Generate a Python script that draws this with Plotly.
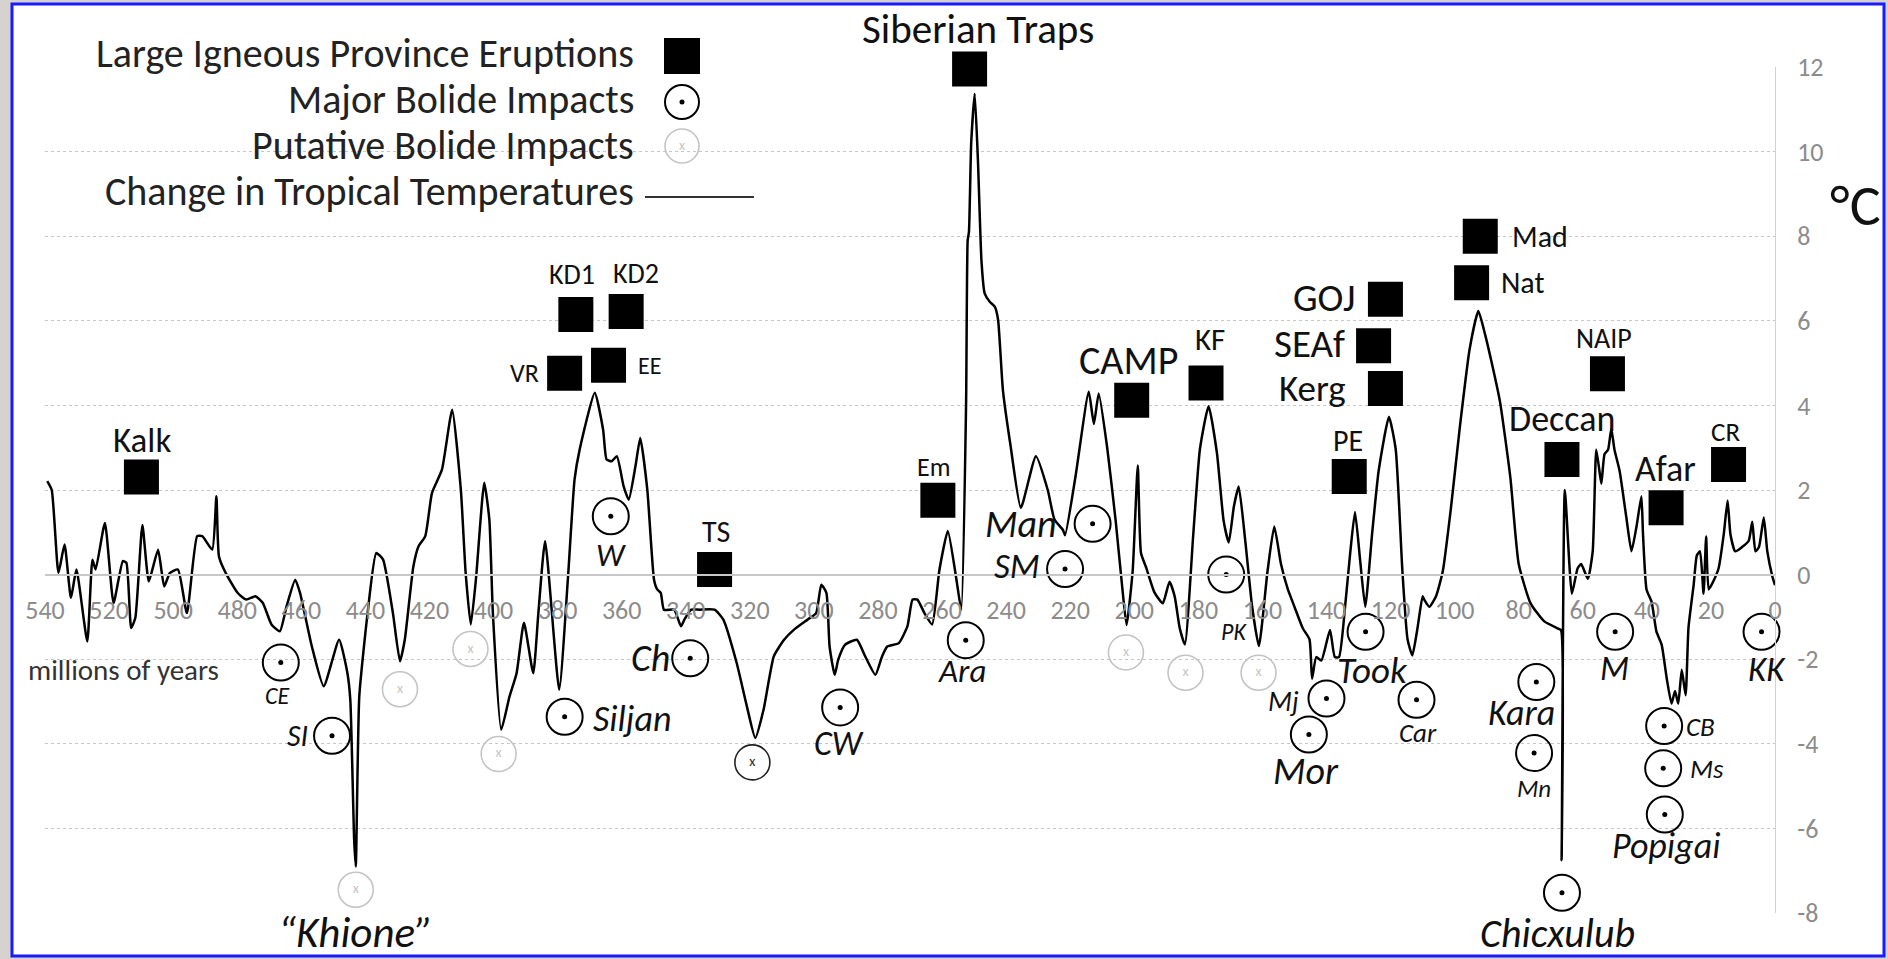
import plotly.graph_objects as go

# ---------------- data ----------------
AGE = [539.3, 537.9, 535.8, 533.9, 531.9, 530.2, 526.8, 525.2, 524.2, 521.3, 518.6, 515.7, 514.6,
       513.1, 511.8, 509.6, 507.6, 504.7, 502.8, 501.0, 498.5, 495.7, 492.5, 490.9, 487.8, 486.5,
       485.7, 483.6, 479.9, 477.2, 474.3, 472.0, 469.3, 466.7, 464.6, 461.9, 460.4, 456.7, 453.0,
       448.2, 445.6, 444.7, 443.5, 443.0, 441.9, 439.3, 436.6, 434.5, 431.4, 429.2, 427.7, 425.0,
       423.4, 421.3, 419.2, 416.1, 412.9, 410.2, 408.7, 407.1, 405.5, 402.9, 401.3, 400.2, 397.6,
       395.0, 392.8, 390.5, 387.6, 386.0, 383.9,
       379.5, 376.8, 374.7, 373.1, 368.4, 365.8, 364.7, 363.1, 361.5, 359.4, 357.8, 355.7, 354.2,
       352.0, 349.9, 348.9, 347.8, 346.8, 343.6, 341.5, 340.4, 338.3, 335.7, 331.0, 328.3, 324.1,
       320.9, 318.3, 315.7, 312.5, 309.3, 306.2, 301.9, 299.3, 297.7, 296.1, 295.1, 293.5, 292.4,
       290.3, 286.6, 284.0, 280.8, 278.7, 277.1, 273.5, 270.8, 269.2, 267.7, 265.5, 263.1, 260.8,
       258.2, 255.5, 254.0,
       252.5, 252.0, 251.6, 250.9, 249.8, 248.8, 247.7, 246.7, 245.1, 243.5, 242.5, 241.0,
       238.6, 235.4, 230.7, 227.0, 224.9, 222.3, 221.6,
       218.4, 214.2, 212.6, 211.1, 208.4, 205.8, 203.7, 202.4, 200.5, 198.9, 197.9, 196.3, 193.7,
       191.1, 189.0, 187.4, 185.8, 184.2, 181.6, 179.5, 176.8, 174.2, 172.1, 170.5, 168.9, 167.4,
       165.3, 163.2, 161.1, 158.4, 156.3, 154.2, 152.1, 150.0, 147.4, 145.3, 144.5, 143.2, 141.6,
       138.9, 137.4, 136.1, 134.2, 132.6, 131.1, 129.5, 127.9, 125.8, 123.7, 120.5, 118.4, 116.3,
       114.7, 113.2, 111.6, 110.0, 109.5, 107.9, 105.8, 103.7, 101.1, 98.4, 95.3, 92.6, 90.5,
       88.4, 85.8, 82.6, 80.0, 76.3, 72.1, 67.9, 66.8,
       66.6, 65.6, 63.4, 61.6, 60.5, 58.4, 56.9, 55.8, 54.8, 54.2, 53.2, 52.1, 51.1, 50.1, 48.5,
       46.4, 44.8, 43.2, 41.7, 41.2, 40.1, 38.5, 37.0, 35.4, 33.8, 32.3, 31.2, 30.2, 29.1, 27.9,
       27.0, 25.4, 24.4, 23.4, 22.3, 21.5, 20.7, 19.2, 17.6, 16.0, 14.8, 13.9, 12.4, 10.3, 8.2,
       7.1, 6.1, 5.0, 3.5, 2.4, 0.8, 0.0]
TEMP = [2.21, 2.0, 0.04, 0.71, -0.55, 0.12, -1.58, 0.35, 0.12, 1.22, -0.67, 0.32, 0.28,
        -1.26, -1.02, 1.17, -0.16, 0.59, -0.28, 0.04, 0.12, -0.91, 0.91, 0.91, 0.59, 1.85,
        0.43, 0.04, -0.43, -0.59, -0.51, -0.67, -1.18, -1.34, -0.75, -0.12, -0.43, -1.70, -2.64,
        -1.54, -2.33, -2.96, -6.27, -6.90, -2.88, -0.91, 0.51, 0.36, -0.91, -2.05, -1.54, 0.20,
        0.67, 0.91, 1.93, 2.48, 3.90, 2.01, 0.04, -1.18, -0.12, 2.17, 1.30, -0.91, -3.67,
        -2.88, -2.33, -1.14, -2.33, -0.91, 0.79,
        -2.72, -0.12, 2.25, 2.96, 4.30, 3.43, 2.72, 2.68, 2.80, 2.09, 1.77, 2.56, 3.23,
        2.01, -0.12, -0.35, -0.43, -0.83, -0.83, -1.22, -1.06, -0.83, -0.83, -0.83, -1.06, -2.09,
        -3.12, -3.86, -3.19, -1.93, -1.54, -1.30, -1.06, -0.91, -0.24, -0.43, -1.70, -2.37, -2.01,
        -1.66, -1.54, -1.93, -2.37, -1.93, -1.70, -1.62, -1.22, -0.59, -0.59, -0.91, -1.18, 0.12,
        1.03, -0.12, -0.83,
        4.0, 7.9, 8.1, 10.2, 11.37, 9.8, 7.43, 6.65, 6.45, 6.33, 6.02, 4.36,
        3.04, 1.58, 2.80, 2.0, 1.3, 1.06, 0.93,
        2.29, 4.32, 3.56, 4.28, 2.97, 1.27, -0.34, -1.19, 0.08, 2.58, 0.51, 0.17, -0.42,
        -0.68, -0.17, -0.51, -1.27, -1.65, 0.93, 2.97, 3.98, 2.88, 1.27, 0.76, 1.61, 2.08,
        0.76, -0.76, -1.69, 0.08, 1.14, 0.25, -0.34, -0.76, -1.27, -1.53, -2.46, -1.95, -2.03,
        -1.31, -1.95, -1.95, -0.76, 0.51, 1.48, 0.34, -0.76, 0.93, 2.46, 3.73, 2.97, 0.08,
        -1.53, -1.91, -1.27, -0.51, -0.59, -0.76, -0.51, 0.08, 1.61, 3.47, 5.34, 6.23, 5.68,
        5.0, 4.07, 2.29, 0.25, -0.68, -1.10, -1.27, -1.31,
        -6.75, 2.0, -0.45, 0.15, 0.25, -0.1, 0.55, 2.95, 2.45, 2.15, 2.85, 2.95, 3.45, 2.95, 2.45,
        1.35, 0.55, 1.15, 1.85, 0.95, -0.35, -0.65, -1.35, -1.65, -2.45, -3.05, -2.75, -3.05, -2.25, -2.85,
        -1.25, -0.25, 0.45, 0.55, -0.45, 0.9, -0.35, -0.15, 0.15, 0.95, 1.75, 0.95, 0.55, 0.65, 0.8,
        1.25, 0.55, 0.65, 1.35, 0.55, -0.05, -0.25]

LIP_NAMES = ["Kalk", "VR", "KD1", "KD2", "EE", "TS", "Em", "Siberian Traps", "CAMP", "KF",
             "GOJ", "SEAf", "Kerg", "PE", "Nat", "Mad", "Deccan", "NAIP", "Afar", "CR"]
LIP_AGE = [509.9, 377.8, 374.3, 358.6, 364.1, 331.0, 261.3, 251.4, 200.8, 177.6,
           121.6, 125.3, 121.6, 132.9, 94.7, 92.0, 66.5, 52.3, 34.0, 14.5]
LIP_TEMP = [2.31, 4.76, 6.15, 6.22, 4.95, 0.12, 1.76, 11.95, 4.12, 4.53,
            6.51, 5.41, 4.40, 2.32, 6.90, 8.0, 2.72, 4.75, 1.58, 2.60]

IMPACT_NAMES = ["CE", "SI", "W", "Siljan", "Ch", "CW", "Ara", "Man", "SM", "PK", "Mj", "Mor",
                "Took", "Car", "Kara", "Mn", "Chicxulub", "M", "KK", "CB", "Ms", "Popigai"]
IMPACT_AGE = [466.4, 450.4, 363.4, 377.8, 338.6, 291.8, 252.6, 213.0, 221.6, 171.3, 140.0, 145.5,
              127.8, 111.9, 74.5, 75.2, 66.5, 49.9, 4.2, 34.6, 34.9, 34.4]
IMPACT_TEMP = [-2.08, -3.81, 1.38, -3.36, -1.98, -3.14, -1.55, 1.20, 0.13, 0.0, -2.93, -3.78,
               -1.35, -2.96, -2.54, -4.22, -7.52, -1.35, -1.35, -3.58, -4.58, -5.67]

PUT_AGE = [443.0, 429.2, 407.2, 398.4, 319.2, 202.6, 184.0, 161.2]
PUT_TEMP = [-7.45, -2.71, -1.76, -4.24, -4.44, -1.84, -2.32, -2.32]
PUT_NAMES = ["\u201cKhione\u201d", "", "", "", "", "", "", ""]

X_TICKS = list(range(540, -1, -20))
X_TICK_LABELS = [str(v) for v in X_TICKS]
Y_TICKS = list(range(-8, 13, 2))
Y_TICK_LABELS = [str(v) for v in Y_TICKS]

LEGEND_LABELS = ["Large Igneous Province Eruptions", "Major Bolide Impacts",
                 "Putative Bolide Impacts", "Change in Tropical Temperatures"]
AXIS_NOTE = "millions of years"
UNIT = "\u00b0C"

# ---------------- styles (label sizes and pixel offsets from their marks) ----------------
FONT = "Carlito, Lato, sans-serif"
LIP_SIZE = [35, 26, 28, 28, 24, 30, 26, 41, 40, 31, 39, 39, 37, 30, 30, 30, 36, 28, 36, 27]
LIP_DX = [1, -40, -4, 10, 41, 1, -4, 8, -3, 4, -61, -64, -73, -1, 51, 60, 0, -3, -1, -3]
LIP_DY = [37, 0, 40, 38, 0, 38, 33, 40, 40, 44, 2, 2, 0, 36, 0, 0, 41, 35, 39, 33]
IMP_SIZE = [24, 30, 32, 36, 38, 34, 33, 38, 35, 24, 28, 38, 37, 27, 36, 25, 40, 34, 35, 27, 27, 36]
IMP_DX = [-3, -35, 0, 67, -40, -1, -4, -72, -48, 8, -43, -3, 7, 1, -15, 0, -4, -1, 5, 36, 44, 1]
IMP_DY = [-33, 0, -39, -2, 0, -36, -31, 0, 3, -57, -3, -37, -39, -33, -31, -35, -41, -37, -37,
          0, 0, -32]
PUT_SIZE = 43
PUT_DY = -43
PUT_COLOR = ["#c4c4c4", "#c4c4c4", "#c4c4c4", "#c4c4c4", "#222222", "#c4c4c4", "#c4c4c4", "#c4c4c4"]

W, H = 1888, 959
ML, MR, MT, MB = 45, 113, 67, 46
PW, PH = W - ML - MR, H - MT - MB


def px(xp):
    return (xp - ML) / PW


def py(yp):
    return (H - MB - yp) / PH


fig = go.Figure()

fig.add_trace(go.Scatter(x=AGE, y=TEMP, mode="lines",
                         line=dict(color="black", width=2.5, shape="spline", smoothing=0.5),
                         hoverinfo="skip"))

fig.add_trace(go.Scatter(x=LIP_AGE, y=LIP_TEMP, mode="markers", text=LIP_NAMES,
                         marker=dict(symbol="square", size=35, color="black"),
                         cliponaxis=False))

fig.add_trace(go.Scatter(x=IMPACT_AGE, y=IMPACT_TEMP, mode="markers", text=IMPACT_NAMES,
                         marker=dict(symbol="circle-open", size=36, color="black",
                                     line=dict(width=2, color="black")),
                         cliponaxis=False))
fig.add_trace(go.Scatter(x=IMPACT_AGE, y=IMPACT_TEMP, mode="markers",
                         marker=dict(symbol="circle", size=5, color="black"),
                         cliponaxis=False, hoverinfo="skip"))

fig.add_trace(go.Scatter(x=PUT_AGE, y=PUT_TEMP, mode="markers+text", text=["x"] * len(PUT_AGE),
                         textposition="middle center",
                         textfont=dict(family=FONT, size=14, color=PUT_COLOR),
                         marker=dict(symbol="circle-open", size=35, color=PUT_COLOR,
                                     line=dict(width=1.6, color=PUT_COLOR)),
                         cliponaxis=False))

shapes = [dict(type="rect", xref="paper", yref="paper", x0=px(12), x1=px(1884), y0=py(956),
               y1=py(4), line=dict(color="#1a1aff", width=3), fillcolor="white", layer="below")]
annotations = []

# labels of the events
for name, a, t, s, dx, dy in zip(LIP_NAMES, LIP_AGE, LIP_TEMP, LIP_SIZE, LIP_DX, LIP_DY):
    annotations.append(dict(x=a, y=t, xref="x", yref="y", text=name, showarrow=False,
                            xanchor="center", yanchor="middle", xshift=dx, yshift=dy,
                            font=dict(family=FONT, size=s, color="#111")))
for name, a, t, s, dx, dy in zip(IMPACT_NAMES, IMPACT_AGE, IMPACT_TEMP, IMP_SIZE, IMP_DX, IMP_DY):
    annotations.append(dict(x=a, y=t, xref="x", yref="y", text=name, showarrow=False,
                            xanchor="center", yanchor="middle", xshift=dx, yshift=dy,
                            font=dict(family=FONT, size=s, color="#111", style="italic")))
for name, a, t in zip(PUT_NAMES, PUT_AGE, PUT_TEMP):
    if name:
        annotations.append(dict(x=a, y=t, xref="x", yref="y", text=name, showarrow=False,
                                xanchor="center", yanchor="middle", yshift=PUT_DY,
                                font=dict(family=FONT, size=PUT_SIZE, color="#111",
                                          style="italic")))

# legend
leg_x_text = px(636)
leg_x_sym = px(682)
leg_rows = [54, 99, 145, 191]
for lab, yr in zip(LEGEND_LABELS, leg_rows):
    annotations.append(dict(x=leg_x_text, y=py(yr), xref="paper", yref="paper", text=lab,
                            showarrow=False, xanchor="right", yanchor="middle",
                            font=dict(family=FONT, size=40, color="#222")))
shapes.append(dict(type="rect", xref="paper", yref="paper", xsizemode="pixel", ysizemode="pixel",
                   xanchor=leg_x_sym, yanchor=py(56), x0=-18, x1=18, y0=-18, y1=18,
                   fillcolor="black", line=dict(width=0)))
shapes.append(dict(type="circle", xref="paper", yref="paper", xsizemode="pixel", ysizemode="pixel",
                   xanchor=leg_x_sym, yanchor=py(102), x0=-17, x1=17, y0=-17, y1=17,
                   line=dict(color="black", width=2)))
shapes.append(dict(type="circle", xref="paper", yref="paper", xsizemode="pixel", ysizemode="pixel",
                   xanchor=leg_x_sym, yanchor=py(102), x0=-2.5, x1=2.5, y0=-2.5, y1=2.5,
                   fillcolor="black", line=dict(width=0)))
shapes.append(dict(type="circle", xref="paper", yref="paper", xsizemode="pixel", ysizemode="pixel",
                   xanchor=leg_x_sym, yanchor=py(146), x0=-17, x1=17, y0=-17, y1=17,
                   line=dict(color="#c4c4c4", width=1.6)))
annotations.append(dict(x=leg_x_sym, y=py(146), xref="paper", yref="paper", text="x",
                        showarrow=False, xanchor="center", yanchor="middle",
                        font=dict(family=FONT, size=14, color="#c4c4c4")))
shapes.append(dict(type="line", xref="paper", yref="paper", x0=px(645), x1=px(754),
                   y0=py(197), y1=py(197), line=dict(color="#333", width=2)))

annotations.append(dict(x=px(123), y=py(670), xref="paper", yref="paper", text=AXIS_NOTE,
                        showarrow=False, xanchor="center", yanchor="middle",
                        font=dict(family=FONT, size=29, color="#333")))
annotations.append(dict(x=px(1855), y=py(206), xref="paper", yref="paper", text=UNIT,
                        showarrow=False, xanchor="center", yanchor="middle",
                        font=dict(family=FONT, size=58, color="#111")))

fig.update_layout(
    width=W, height=H, autosize=False,
    margin=dict(l=ML, r=MR, t=MT, b=MB, pad=0),
    paper_bgcolor="#d6d3ce", plot_bgcolor="white",
    showlegend=False, shapes=shapes, annotations=annotations,
    xaxis=dict(range=[540, 0], anchor="free", position=0.4, showline=True,
               linecolor="#c8c8c8", linewidth=2, tickmode="array", tickvals=X_TICKS,
               ticktext=X_TICK_LABELS, ticks="", showgrid=False, zeroline=False,
               tickfont=dict(family=FONT, size=26, color="#8c8c8c"), ticklabelstandoff=12),
    yaxis=dict(range=[-8, 12], side="right", tickmode="array", tickvals=Y_TICKS,
               ticktext=Y_TICK_LABELS, showgrid=True, gridcolor="#c6c6c6", griddash="dot",
               gridwidth=1, zeroline=False, showline=True, linecolor="#d2d2d2", linewidth=1,
               ticks="", tickfont=dict(family=FONT, size=26, color="#8c8c8c"),
               ticklabelstandoff=16),
)

fig.write_html("out.html", config={"displayModeBar": False},
               post_script="document.body.style.margin='0';document.body.style.overflow='hidden';")
